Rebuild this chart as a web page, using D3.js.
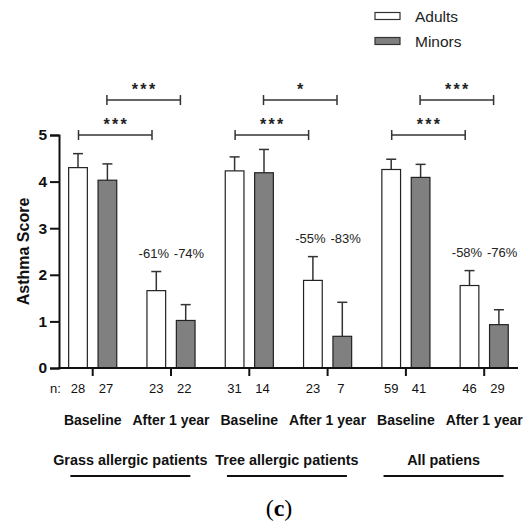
<!DOCTYPE html>
<html><head><meta charset="utf-8">
<script src="https://cdn.jsdelivr.net/npm/d3@7"></script>
<style>body{margin:0;background:#fff}svg{display:block}text{font-family:"Liberation Sans",Arial,sans-serif}</style>
</head><body>
<script>
const groups = ["Grass allergic patients", "Tree allergic patients", "All patiens"];
const timepoints = ["Baseline", "After 1 year"];
const adultMeans = [4.30, 1.66, 4.23, 1.88, 4.26, 1.77];
const adultUpper = [4.60, 2.07, 4.53, 2.39, 4.48, 2.09];
const minorMeans = [4.03, 1.02, 4.19, 0.68, 4.09, 0.93];
const minorUpper = [4.38, 1.36, 4.69, 1.41, 4.37, 1.25];
const adultN = [28, 23, 31, 23, 59, 46];
const minorN = [27, 22, 14, 7, 41, 29];
const adultChange = ["-61%", "-55%", "-58%"];
const minorChange = ["-74%", "-83%", "-76%"];
const sigAdults = ["***", "***", "***"];
const sigMinors = ["***", "*", "***"];
const yTicks = [0, 1, 2, 3, 4, 5];
const seriesNames = ["Adults", "Minors"];

const W = 524, H = 521;
const svg = d3.select("body").append("svg").attr("width", W).attr("height", H);

const cats = [];
groups.forEach((g, gi) => timepoints.forEach((t, ti) => cats.push({id: gi + "-" + ti, g: gi, t: ti, label: t})));
const x = d3.scaleBand().domain(cats.map(c => c.id)).range([53.55, 523.35]).padding(0);
const y = d3.scaleLinear().domain([0, 5]).range([368, 135]);
const cx = id => x(id) + x.bandwidth() / 2;
const off = 14.7, bw = 18.7;
const axisX0 = 59, axisX1 = 518;

// bars
const bars = [];
cats.forEach((c, i) => {
  bars.push({id: c.id, s: 0, v: adultMeans[i], u: adultUpper[i], n: adultN[i]});
  bars.push({id: c.id, s: 1, v: minorMeans[i], u: minorUpper[i], n: minorN[i]});
});
const bx = d => cx(d.id) + (d.s === 0 ? -off : off);

// error bars
const eb = svg.append("g").attr("stroke", "#333").attr("stroke-width", 1.5);
bars.forEach(d => {
  eb.append("line").attr("x1", bx(d)).attr("x2", bx(d)).attr("y1", y(d.v)).attr("y2", y(d.u));
  eb.append("line").attr("x1", bx(d) - 5).attr("x2", bx(d) + 5).attr("y1", y(d.u)).attr("y2", y(d.u));
});

svg.append("g").selectAll("rect").data(bars).join("rect")
  .attr("x", d => bx(d) - bw / 2).attr("width", bw)
  .attr("y", d => y(d.v)).attr("height", d => y(0) - y(d.v))
  .attr("fill", d => d.s === 0 ? "#fff" : "#808080")
  .attr("stroke", "#222").attr("stroke-width", 1.2);

// y axis
const ya = svg.append("g").attr("transform", `translate(${axisX0},0)`)
  .call(d3.axisLeft(y).tickValues(yTicks).tickFormat(d3.format("d")).tickSize(9).tickPadding(3));
ya.select(".domain").attr("stroke", "#111").attr("stroke-width", 2);
ya.selectAll(".tick line").attr("stroke", "#111").attr("stroke-width", 2);
ya.selectAll(".tick text").attr("font-size", 15.5).attr("font-weight", "bold").attr("fill", "#111");

// x axis
const xa = svg.append("g").attr("transform", `translate(0,${y(0)})`)
  .call(d3.axisBottom(x).tickSize(8).tickFormat(""));
xa.select(".domain").remove();
xa.selectAll(".tick line").attr("stroke", "#111").attr("stroke-width", 2);
svg.append("line").attr("x1", axisX0 - 1).attr("x2", axisX1).attr("y1", y(0)).attr("y2", y(0))
  .attr("stroke", "#111").attr("stroke-width", 2);

// y label
svg.append("text").attr("transform", `translate(29,${(y(0) + y(5)) / 2}) rotate(-90)`)
  .attr("text-anchor", "middle").attr("font-size", 16).attr("font-weight", "bold").attr("fill", "#111")
  .text("Asthma Score");

// n row
svg.append("text").attr("x", 50).attr("y", 393).attr("font-size", 13).attr("fill", "#111").text("n:");
svg.append("g").selectAll("text").data(bars).join("text")
  .attr("x", d => bx(d) + (d.s === 0 ? 0 : -1.5)).attr("y", 393)
  .attr("text-anchor", "middle").attr("font-size", 13).attr("fill", "#111").text(d => d.n);

// category labels
svg.append("g").selectAll("text").data(cats).join("text")
  .attr("x", d => cx(d.id)).attr("y", 425).attr("text-anchor", "middle")
  .attr("font-size", 14).attr("font-weight", "bold").attr("fill", "#111").text(d => d.label);

// group labels + underline
groups.forEach((g, gi) => {
  const mid = (cx(gi + "-0") + cx(gi + "-1")) / 2 - 1.5;
  svg.append("text").attr("x", mid).attr("y", 465).attr("text-anchor", "middle")
    .attr("font-size", 14.4).attr("font-weight", "bold").attr("fill", "#111").text(g);
  svg.append("line").attr("x1", mid - 60).attr("x2", mid + 60).attr("y1", 476).attr("y2", 476)
    .attr("stroke", "#111").attr("stroke-width", 2);
});

// percentage change labels
groups.forEach((g, gi) => {
  const i = gi * 2 + 1;
  const id = gi + "-1";
  const ly = y(adultUpper[i]) - 13.5;
  svg.append("text").attr("x", cx(id) - off - 2.5).attr("y", ly).attr("text-anchor", "middle")
    .attr("font-size", 13).attr("fill", "#222").text(adultChange[gi]);
  svg.append("text").attr("x", cx(id) + off + 3.3).attr("y", ly).attr("text-anchor", "middle")
    .attr("font-size", 13).attr("fill", "#222").text(minorChange[gi]);
});

// significance brackets
function bracket(x1, x2, yv, label) {
  const yy = y(yv);
  const gb = svg.append("g").attr("stroke", "#333").attr("stroke-width", 1.5);
  gb.append("line").attr("x1", x1).attr("x2", x2).attr("y1", yy).attr("y2", yy);
  gb.append("line").attr("x1", x1).attr("x2", x1).attr("y1", yy - 5).attr("y2", yy + 5);
  gb.append("line").attr("x1", x2).attr("x2", x2).attr("y1", yy - 5).attr("y2", yy + 5);
  svg.append("text").attr("x", (x1 + x2) / 2 + 1).attr("y", yy - 5).attr("text-anchor", "middle")
    .attr("font-size", 16).attr("font-weight", "bold").attr("letter-spacing", 2.3).attr("fill", "#222")
    .text(label);
}
groups.forEach((g, gi) => {
  const xa0 = cx(gi + "-0") - off + 0.5;
  bracket(xa0, xa0 + 73.5, 5.0, sigAdults[gi]);
  const xm0 = cx(gi + "-0") + off - 0.5;
  bracket(xm0, xm0 + 73.5, 5.75, sigMinors[gi]);
});

// legend
const lg = svg.append("g");
seriesNames.forEach((s, i) => {
  const ly = 16 + i * 25;
  lg.append("rect").attr("x", 375).attr("y", ly - 3.5).attr("width", 25).attr("height", 7)
    .attr("fill", i === 0 ? "#fff" : "#808080").attr("stroke", "#333").attr("stroke-width", 1.2);
  lg.append("text").attr("x", 415).attr("y", ly + 5.5).attr("font-size", 15.5).attr("fill", "#222").text(s);
});

// panel label
const pl = svg.append("text").attr("x", 279).attr("y", 516).attr("text-anchor", "middle")
  .attr("font-size", 24).style("font-family", "'Liberation Serif', 'DejaVu Serif', serif").attr("fill", "#000");
pl.append("tspan").text("(");
pl.append("tspan").attr("font-weight", "bold").text("c");
pl.append("tspan").text(")");
</script>
</body></html>
